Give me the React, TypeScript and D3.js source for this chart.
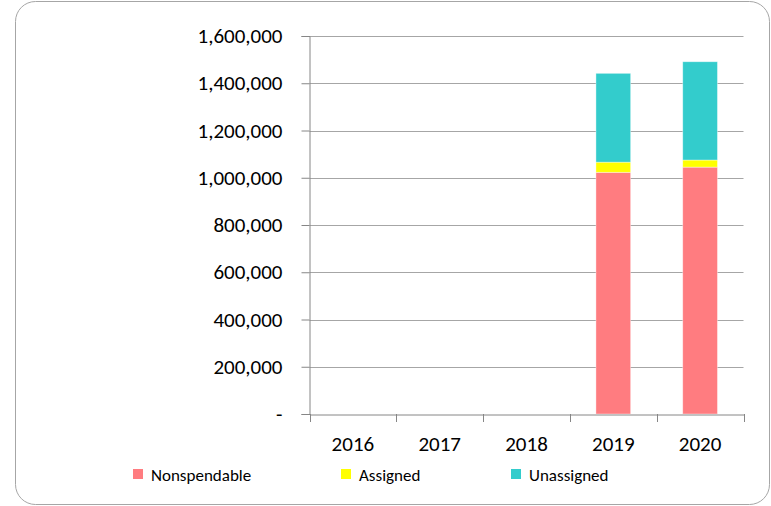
import React, { useRef, useEffect } from 'react';
import * as d3 from 'd3';

const years = ['2016', '2017', '2018', '2019', '2020'];
const nonspendable = [0, 0, 0, 1023000, 1045000];
const assigned = [0, 0, 0, 43000, 30000];
const unassigned = [0, 0, 0, 376000, 416000];
const yTicks = [0, 200000, 400000, 600000, 800000, 1000000, 1200000, 1400000, 1600000];

const seriesNames = ['Nonspendable', 'Assigned', 'Unassigned'];
const colors = ['#FF7C80', '#FFFF00', '#33CCCC'];

const W = 771;
const H = 506;

const App = () => {
  const svgRef = useRef<SVGSVGElement>(null);

  useEffect(() => {
    const svg = d3.select(svgRef.current);
    svg.selectAll('*').remove();

    const font = 'Carlito, Lato, "Open Sans", sans-serif';
    const plot = { left: 309.5, right: 743.5, top: 36, bottom: 414 };

    // outer rounded frame
    svg.append('rect')
      .attr('x', 15.5).attr('y', 1.5)
      .attr('width', W - 17).attr('height', H - 3)
      .attr('rx', 20).attr('ry', 20)
      .attr('fill', '#fff')
      .attr('stroke', '#a6a6a6')
      .attr('stroke-width', 1);

    const x = d3.scaleBand()
      .domain(years)
      .range([plot.left, plot.right])
      .paddingInner(0.6)
      .paddingOuter(0.3);

    const y = d3.scaleLinear()
      .domain([0, 1600000])
      .range([plot.bottom, plot.top]);

    // gridlines
    svg.append('g')
      .selectAll('line')
      .data(yTicks.filter(d => d > 0))
      .enter().append('line')
      .attr('x1', plot.left).attr('x2', plot.right)
      .attr('y1', d => Math.round(y(d)) + 0.5)
      .attr('y2', d => Math.round(y(d)) + 0.5)
      .attr('stroke', '#a6a6a6')
      .attr('stroke-width', 1);

    // stacked bars
    const table = years.map((yr, i) => ({
      year: yr,
      Nonspendable: nonspendable[i],
      Assigned: assigned[i],
      Unassigned: unassigned[i],
    }));
    const stack = d3.stack<any>().keys(seriesNames)(table);

    svg.append('g')
      .selectAll('g')
      .data(stack)
      .enter().append('g')
      .attr('fill', (d, i) => colors[i])
      .selectAll('rect')
      .data(d => d.filter(s => s[1] - s[0] > 0))
      .enter().append('rect')
      .attr('x', d => x(d.data.year)!)
      .attr('width', x.bandwidth())
      .attr('y', d => y(d[1]))
      .attr('height', d => y(d[0]) - y(d[1]))
      .attr('stroke', '#fff')
      .attr('stroke-opacity', 0.5)
      .attr('stroke-width', 0.75);

    // y axis
    const yAxis = svg.append('g')
      .attr('transform', `translate(${plot.left},0)`)
      .call(d3.axisLeft(y).tickValues(yTicks).tickSize(8).tickPadding(19)
        .tickFormat(d => (+d === 0 ? '-' : d3.format(',')(+d))));
    yAxis.select('.domain').attr('stroke', '#868686');
    yAxis.selectAll('.tick line').attr('stroke', '#868686');
    yAxis.selectAll('.tick text')
      .attr('font-family', font)
      .attr('font-size', 21)
      .attr('fill', '#000');

    // x axis
    const xAxis = svg.append('g')
      .attr('transform', `translate(0,${plot.bottom + 0.5})`)
      .call(d3.axisBottom(x).tickSize(0).tickPadding(22));
    xAxis.select('.domain').attr('stroke', '#868686');
    xAxis.selectAll('.tick text')
      .attr('font-family', font)
      .attr('font-size', 21)
      .attr('fill', '#000');

    // category boundary ticks
    svg.append('g')
      .selectAll('line')
      .data(d3.range(years.length + 1))
      .enter().append('line')
      .attr('x1', i => Math.round(plot.left + i * x.step()) + 0.5)
      .attr('x2', i => Math.round(plot.left + i * x.step()) + 0.5)
      .attr('y1', plot.bottom)
      .attr('y2', plot.bottom + 8)
      .attr('stroke', '#868686');

    // legend
    const legendX = [133, 341, 511];
    const legend = svg.append('g');
    seriesNames.forEach((name, i) => {
      legend.append('rect')
        .attr('x', legendX[i]).attr('y', 469)
        .attr('width', 10).attr('height', 10)
        .attr('fill', colors[i]);
      legend.append('text')
        .attr('x', legendX[i] + 18).attr('y', 481)
        .attr('font-family', font)
        .attr('font-size', 17)
        .attr('fill', '#000')
        .text(name);
    });
  }, []);

  return (
    <svg ref={svgRef} width={W} height={H}
      style={{ position: 'absolute', left: 0, top: 0 }} />
  );
};

export default App;
